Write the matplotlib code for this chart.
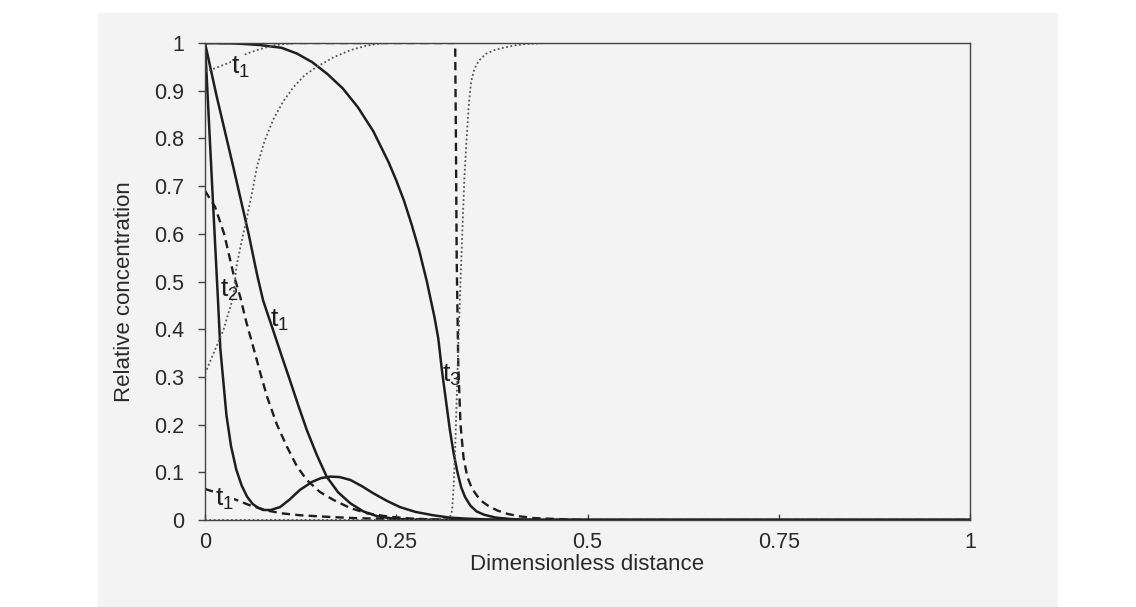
import matplotlib
matplotlib.use("Agg")
import matplotlib.pyplot as plt
from matplotlib.patches import Rectangle

plt.rcParams['font.family'] = ['Liberation Sans', 'DejaVu Sans']
plt.rcParams['mathtext.fontset'] = 'custom'
plt.rcParams['mathtext.rm'] = 'Liberation Sans'
plt.rcParams['mathtext.it'] = 'Liberation Sans:italic'

# values
# solid curves
sol1_x = [0, 0.005, 0.010, 0.017, 0.020, 0.024, 0.028, 0.034, 0.041, 0.048, 0.055, 0.062, 0.069, 0.076,
          0.086, 0.098, 0.110, 0.124, 0.140, 0.152, 0.164, 0.176, 0.190, 0.205, 0.220, 0.238, 0.255,
          0.275, 0.298, 0.320, 0.340, 0.370, 0.400, 1.0]
sol1_y = [1.0, 0.84, 0.68, 0.46, 0.36, 0.29, 0.22, 0.155, 0.105, 0.072, 0.049, 0.034, 0.026, 0.021,
          0.021, 0.027, 0.042, 0.063, 0.080, 0.088, 0.091, 0.090, 0.084, 0.071, 0.056, 0.040, 0.027,
          0.017, 0.010, 0.005, 0.003, 0.001, 0.0, 0.0]
sol2_x = [0, 0.015, 0.037, 0.057, 0.068, 0.076, 0.089, 0.100, 0.111, 0.122, 0.133, 0.146, 0.159,
          0.174, 0.190, 0.207, 0.225, 0.245, 0.265, 0.30, 1.0]
sol2_y = [1.0, 0.89, 0.74, 0.60, 0.515, 0.46, 0.398, 0.345, 0.293, 0.24, 0.189, 0.137, 0.091,
          0.058, 0.035, 0.018, 0.008, 0.003, 0.001, 0.0, 0.0]
sol3_x = [0, 0.04, 0.07, 0.10, 0.12, 0.14, 0.16, 0.18, 0.20, 0.22, 0.24, 0.25, 0.26, 0.27, 0.28,
          0.29, 0.30, 0.305, 0.31, 0.315, 0.32, 0.325, 0.33, 0.335, 0.34, 0.347, 0.355, 0.365,
          0.38, 0.40, 0.43, 1.0]
sol3_y = [1.0, 0.999, 0.996, 0.99, 0.978, 0.96, 0.935, 0.905, 0.865, 0.815, 0.75, 0.712, 0.67,
          0.62, 0.565, 0.50, 0.425, 0.38, 0.31, 0.25, 0.19, 0.14, 0.10, 0.068, 0.048, 0.03,
          0.018, 0.011, 0.005, 0.002, 0.0, 0.0]

# dashed curves
dsh1_x = [0, 0.020, 0.041, 0.060, 0.081, 0.100, 0.124, 0.145, 0.168, 0.195, 0.220, 0.260, 0.300, 0.350, 1.0]
dsh1_y = [0.065, 0.055, 0.042, 0.030, 0.020, 0.014, 0.010, 0.008, 0.006, 0.004, 0.003, 0.002, 0.001, 0.0, 0.0]
dsh2_x = [0, 0.013, 0.025, 0.037, 0.046, 0.054, 0.063, 0.072, 0.081, 0.094, 0.107, 0.120, 0.133,
          0.150, 0.168, 0.190, 0.212, 0.240, 0.270, 0.300, 0.350, 1.0]
dsh2_y = [0.69, 0.657, 0.60, 0.517, 0.468, 0.415, 0.363, 0.31, 0.259, 0.20, 0.154, 0.113, 0.084,
          0.059, 0.042, 0.025, 0.014, 0.007, 0.003, 0.001, 0.0, 0.0]
dsh3_x = [0, 0.327, 0.328, 0.329, 0.331, 0.334, 0.338, 0.343, 0.349, 0.356, 0.363, 0.370, 0.382,
          0.395, 0.410, 0.430, 0.460, 0.50, 1.0]
dsh3_y = [1.0, 1.0, 0.80, 0.55, 0.33, 0.20, 0.13, 0.09, 0.066, 0.05, 0.038, 0.03, 0.02,
          0.013, 0.008, 0.004, 0.002, 0.0, 0.0]

# dotted curves
dot1_x = [0, 0.013, 0.035, 0.055, 0.068, 0.080, 0.094, 0.110, 0.125, 1.0]
dot1_y = [0.94, 0.947, 0.961, 0.978, 0.985, 0.991, 0.996, 0.999, 1.0, 1.0]
dot2_x = [0, 0.010, 0.024, 0.037, 0.041, 0.048, 0.055, 0.062, 0.068, 0.078, 0.089, 0.102,
          0.116, 0.130, 0.146, 0.168, 0.190, 0.210, 0.233, 1.0]
dot2_y = [0.307, 0.345, 0.398, 0.468, 0.531, 0.585, 0.636, 0.69, 0.741, 0.795, 0.839, 0.877,
          0.908, 0.932, 0.95, 0.97, 0.985, 0.994, 1.0, 1.0]
dot3_x = [0, 0.318, 0.320, 0.323, 0.325, 0.327, 0.329, 0.331, 0.334, 0.337, 0.339, 0.342, 0.345,
          0.348, 0.352, 0.358, 0.367, 0.378, 0.390, 0.405, 0.420, 0.450, 1.0]
dot3_y = [0.0, 0.0, 0.005, 0.02, 0.07, 0.15, 0.25, 0.36, 0.50, 0.63, 0.715, 0.80, 0.875,
          0.92, 0.945, 0.963, 0.977, 0.985, 0.99, 0.995, 0.998, 1.0, 1.0]

x_ticks = [0, 0.25, 0.5, 0.75, 1]
x_tick_labels = ['0', '0.25', '0.5', '0.75', '1']
y_ticks = [0, 0.1, 0.2, 0.3, 0.4, 0.5, 0.6, 0.7, 0.8, 0.9, 1]
y_tick_labels = ['0', '0.1', '0.2', '0.3', '0.4', '0.5', '0.6', '0.7', '0.8', '0.9', '1']

# curve labels: (x, y, text, masks the line underneath)
curve_labels = [
    (0.047, 0.948, 't$_{\\mathrm{1}}$', True),
    (0.032, 0.482, 't$_{\\mathrm{2}}$', False),
    (0.097, 0.419, 't$_{\\mathrm{1}}$', False),
    (0.322, 0.304, 't$_{\\mathrm{3}}$', False),
    (0.025, 0.044, 't$_{\\mathrm{1}}$', True),
]

W, H = 1136, 607
page = '#f3f3f3'
ink = '#1e1e1e'

fig = plt.figure(figsize=(W / 100, H / 100), dpi=100)
fig.patch.set_facecolor('white')
fig.patches.append(Rectangle((98 / W, 0), (1058 - 98) / W, (H - 13) / H,
                             transform=fig.transFigure, facecolor=page, edgecolor='none', zorder=-5))

ax = fig.add_axes([205 / W, 1 - 520 / H, 765 / W, 477 / H])
ax.set_facecolor('none')
ax.set_zorder(2)

# solid
for xs, ys in [(sol1_x, sol1_y), (sol2_x, sol2_y), (sol3_x, sol3_y)]:
    ax.plot(xs, ys, color=ink, lw=1.8, solid_joinstyle='round')
# dashed
for xs, ys in [(dsh1_x, dsh1_y), (dsh2_x, dsh2_y), (dsh3_x, dsh3_y)]:
    ax.plot(xs, ys, color=ink, lw=1.7, linestyle=(0, (3.5, 2.2)))
# dotted
for xs, ys in [(dot1_x, dot1_y), (dot2_x, dot2_y), (dot3_x, dot3_y)]:
    ax.plot(xs, ys, color='#555555', lw=1.3, linestyle=(0, (1, 1.4)))

for lx, ly, txt, mask in curve_labels:
    box = dict(facecolor=page, edgecolor='none', pad=0.3) if mask else None
    ax.text(lx, ly, txt, fontsize=19, color=ink, ha='center', va='center', bbox=box, zorder=5)

ax.set_xlim(0, 1)
ax.set_ylim(0, 1)
ax.set_xticks(x_ticks)
ax.set_xticklabels(x_tick_labels)
ax.set_yticks(y_ticks)
ax.set_yticklabels(y_tick_labels)

for s in ax.spines.values():
    s.set_color('#444444')
    s.set_linewidth(1.0)

ax.tick_params(axis='y', direction='out', length=5, width=1, color='#444444',
               labelsize=15.5, labelcolor='#2a2a2a', pad=10)
ax.tick_params(axis='x', direction='in', length=4, width=1, color='#444444',
               labelsize=15.5, labelcolor='#2a2a2a', pad=8.5)

fig.text(587 / W, 1 - 565 / H, 'Dimensionless distance', fontsize=16, color='#2a2a2a',
         ha='center', va='center')
fig.text(125 / W, 1 - 292 / H, 'Relative concentration', fontsize=16, color='#2a2a2a',
         ha='center', va='center', rotation=90)

fig.savefig('out.png', dpi=100)
